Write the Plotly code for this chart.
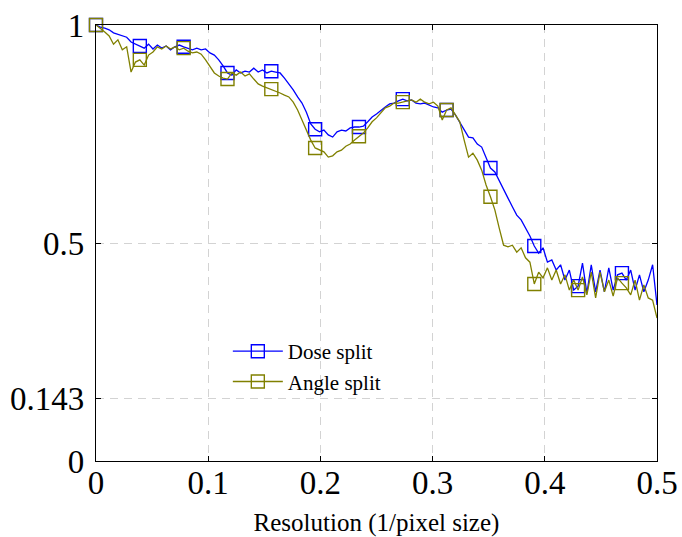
import plotly.graph_objects as go

# x positions: resolution steps of 1/256
n_points = 129
resolution = [i / 256 for i in range(n_points)]

dose_split = [
    1.000, 0.995, 0.993, 0.989, 0.982, 0.979, 0.975, 0.972, 0.961, 0.956,
    0.952, 0.947, 0.956, 0.945, 0.954, 0.947, 0.952, 0.943, 0.950, 0.954,
    0.950, 0.947, 0.943, 0.947, 0.943, 0.945, 0.936, 0.931, 0.920, 0.906,
    0.890, 0.885, 0.897, 0.890, 0.894, 0.892, 0.901, 0.892, 0.897, 0.890,
    0.894, 0.892, 0.890, 0.878, 0.865, 0.851, 0.835, 0.821, 0.800, 0.773,
    0.761, 0.755, 0.759, 0.748, 0.743, 0.755, 0.759, 0.757, 0.764, 0.766,
    0.766, 0.768, 0.778, 0.789, 0.796, 0.805, 0.812, 0.819, 0.821, 0.826,
    0.830, 0.826, 0.828, 0.821, 0.819, 0.821, 0.817, 0.812, 0.810, 0.800,
    0.805, 0.807, 0.794, 0.778, 0.759, 0.743, 0.741, 0.727, 0.720, 0.695,
    0.672, 0.663, 0.644, 0.622, 0.603, 0.583, 0.564, 0.553, 0.534, 0.516,
    0.493, 0.477, 0.489, 0.456, 0.461, 0.438, 0.450, 0.415, 0.438, 0.392,
    0.401, 0.454, 0.385, 0.450, 0.388, 0.438, 0.388, 0.443, 0.392, 0.427,
    0.431, 0.415, 0.438, 0.392, 0.427, 0.388, 0.415, 0.450, 0.358,
]

angle_split = [
    1.000, 0.993, 0.984, 0.975, 0.956, 0.966, 0.943, 0.950, 0.892, 0.915,
    0.920, 0.908, 0.931, 0.938, 0.950, 0.945, 0.952, 0.945, 0.950, 0.943,
    0.947, 0.940, 0.936, 0.938, 0.933, 0.920, 0.904, 0.890, 0.883, 0.878,
    0.876, 0.890, 0.885, 0.892, 0.883, 0.888, 0.876, 0.865, 0.860, 0.856,
    0.853, 0.849, 0.844, 0.839, 0.835, 0.823, 0.805, 0.782, 0.759, 0.736,
    0.718, 0.713, 0.709, 0.697, 0.700, 0.709, 0.713, 0.722, 0.727, 0.736,
    0.745, 0.752, 0.764, 0.778, 0.787, 0.798, 0.810, 0.814, 0.821, 0.821,
    0.823, 0.826, 0.828, 0.823, 0.830, 0.823, 0.819, 0.823, 0.814, 0.782,
    0.805, 0.810, 0.794, 0.778, 0.736, 0.697, 0.706, 0.690, 0.667, 0.633,
    0.606, 0.576, 0.534, 0.495, 0.491, 0.495, 0.479, 0.489, 0.466, 0.456,
    0.406, 0.433, 0.420, 0.443, 0.415, 0.438, 0.406, 0.427, 0.392, 0.415,
    0.392, 0.422, 0.381, 0.433, 0.374, 0.433, 0.388, 0.415, 0.378, 0.420,
    0.408, 0.397, 0.381, 0.415, 0.369, 0.404, 0.374, 0.369, 0.328,
]

series_names = ["Dose split", "Angle split"]
series_colors = ["#0000ff", "#808000"]
mark_every = 10

x_ticks = [0, 0.1, 0.2, 0.3, 0.4, 0.5]
x_tick_labels = ["0", "0.1", "0.2", "0.3", "0.4", "0.5"]
y_ticks = [0, 0.143, 0.5, 1]
y_tick_labels = ["0", "0.143", "0.5", "1"]

FONT = "Liberation Serif"

fig = go.Figure()
for name, ys, col in zip(series_names, [dose_split, angle_split], series_colors):
    fig.add_trace(go.Scatter(
        x=resolution, y=ys, mode="lines",
        line=dict(color=col, width=1.3),
        showlegend=False, hoverinfo="skip",
    ))
    fig.add_trace(go.Scatter(
        x=resolution[::mark_every], y=ys[::mark_every], mode="markers",
        marker=dict(symbol="square-open", size=13, color=col, line=dict(width=1.4)),
        showlegend=False, cliponaxis=False,
    ))
    fig.add_trace(go.Scatter(
        x=[None], y=[None], mode="lines+markers", name=name,
        line=dict(color=col, width=1.3),
        marker=dict(symbol="square-open", size=13, color=col, line=dict(width=1.4)),
    ))

axis_common = dict(
    showline=True, linecolor="black", linewidth=1.2, mirror="ticks",
    ticks="inside", ticklen=5, tickcolor="black", tickwidth=1,
    showgrid=True, gridcolor="#d3d3d3", griddash="8px,6px", gridwidth=1,
    zeroline=False, tickfont=dict(family=FONT, size=33, color="black"),
    automargin=False,
)

fig.update_xaxes(
    range=[0, 0.5], tickvals=x_ticks, ticktext=x_tick_labels,
    title=dict(text="Resolution (1/pixel size)", font=dict(family=FONT, size=25, color="black"), standoff=27),
    ticklabelstandoff=-8,
    **axis_common,
)
fig.update_yaxes(
    range=[0, 1], tickvals=y_ticks, ticktext=y_tick_labels,
    ticklabelstandoff=4,
    **axis_common,
)

fig.update_layout(
    width=682, height=537,
    margin=dict(l=96, r=25, t=25, b=76),
    plot_bgcolor="white", paper_bgcolor="white",
    font=dict(family=FONT, color="black"),
    legend=dict(
        x=0.235, y=0.298, xanchor="left", yanchor="top",
        bgcolor="rgba(255,255,255,0)", borderwidth=0,
        font=dict(family=FONT, size=21, color="black"),
        itemwidth=50,
    ),
)

fig.write_html("out.html")
